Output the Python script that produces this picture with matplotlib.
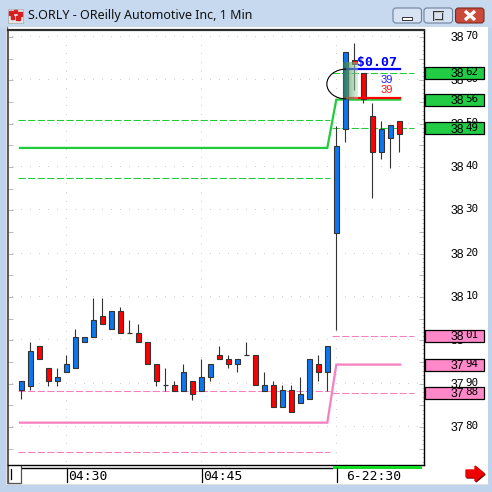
import numpy as np
import matplotlib
matplotlib.use("Agg")
import matplotlib.pyplot as plt
from matplotlib.patches import Rectangle, Arc, FancyBboxPatch, Polygon

# ---- one-minute OHLC bars -------------------------------------------------
opens = [3788.5, 3789.5, 3798.6, 3793.5, 3790.5, 3792.6, 3793.5, 3799.5, 3800.7, 3805.5,
         3802.5, 3806.7, 3801.6, 3801.6, 3799.5, 3794.5, 3789.6, 3789.6, 3788.4, 3790.5,
         3788.4, 3791.5, 3796.6, 3795.6, 3794.5, 3796.6, 3796.6, 3788.4, 3789.6, 3784.5,
         3788.5, 3785.5, 3786.4, 3794.5, 3792.6, 3824.7, 3848.7, 3864.7, 3861.6, 3851.8,
         3843.5, 3846.6, 3850.6]
highs = [3790.5, 3799.6, 3798.6, 3793.5, 3793.5, 3796.5, 3802.6, 3800.7, 3809.8, 3809.8,
         3806.7, 3807.7, 3804.6, 3803.7, 3799.5, 3794.5, 3793.6, 3790.6, 3794.6, 3790.5,
         3795.7, 3794.5, 3798.7, 3796.6, 3795.6, 3799.6, 3796.6, 3792.6, 3790.6, 3789.6,
         3789.6, 3791.5, 3795.6, 3796.6, 3798.7, 3849.5, 3866.5, 3868.5, 3861.6, 3854.7,
         3850.7, 3849.6, 3850.6]
lows = [3786.4, 3788.5, 3795.6, 3789.5, 3789.5, 3792.6, 3793.5, 3799.5, 3800.7, 3803.7,
        3802.5, 3801.6, 3801.6, 3799.5, 3794.5, 3789.5, 3788.4, 3788.4, 3788.4, 3786.3,
        3788.4, 3790.5, 3795.6, 3793.5, 3792.6, 3796.6, 3789.6, 3788.4, 3784.5, 3784.5,
        3783.5, 3785.5, 3786.4, 3790.5, 3788.4, 3802.4, 3845.7, 3857.8, 3854.8, 3832.8,
        3841.8, 3839.7, 3843.5]
closes = [3790.5, 3797.5, 3795.6, 3790.5, 3791.5, 3794.5, 3800.7, 3800.7, 3804.6, 3803.7,
          3806.7, 3801.6, 3801.6, 3799.5, 3794.5, 3790.5, 3789.6, 3788.4, 3792.6, 3787.5,
          3791.5, 3794.5, 3795.6, 3794.5, 3795.6, 3796.6, 3789.6, 3789.6, 3784.5, 3788.5,
          3783.5, 3787.5, 3795.6, 3792.6, 3798.7, 3844.8, 3866.5, 3863.7, 3855.7, 3843.5,
          3848.8, 3849.6, 3847.7]

# time axis labels (bar index -> text)
time_idx = [5, 20, 35]
time_labels = ["04:30", "04:45", "6-22:30"]

# price axis labels
price_ticks = [3780, 3790, 3800, 3810, 3820, 3830, 3840, 3850, 3860, 3870]

# level bands (upper, middle, lower) before and after the session break
green_pre = [3850.8, 3844.4, 3837.5]
green_post = [3861.8, 3855.55, 3848.9]
pink_pre = [3788.2, 3781.0, 3774.2]
pink_post = [3801.0, 3794.4, 3787.8]
break_idx = 35

# quote annotation
spread_text = "$0.07"
ask_price, bid_price = 3862.7, 3856.0
ask_size, bid_size = "39", "39"

# ---- figure ----------------------------------------------------------------
W = H = 492
fig = plt.figure(figsize=(4.92, 4.92), dpi=100)
fig.patch.set_facecolor("#bfd3ec")

bg = fig.add_axes([0, 0, 1, 1], zorder=0)
bg.set_xlim(0, W)
bg.set_ylim(H, 0)
bg.axis("off")

# window chrome
bg.add_patch(Rectangle((0, 0), W, 27, color="#c6d9ef", zorder=0))
bg.add_patch(Rectangle((6, 27), 482, 457, facecolor="white", edgecolor="none", zorder=1))
bg.plot([6.5, 6.5], [27, 484], color="#6a6a6a", lw=1.0, zorder=2)
bg.plot([6, 488], [483.5, 483.5], color="#e0e0e0", lw=0.8, zorder=2)

# title icon
bg.add_patch(Rectangle((8, 9), 15, 14, facecolor="#e6e6e6", edgecolor="#b0b0b0", lw=0.6, zorder=2))
for (ix, iy, iw, ih) in [(9, 11, 4, 4), (14, 10, 3, 3), (18, 12, 4, 4), (11, 16, 3, 3), (16, 16, 4, 4)]:
    bg.add_patch(Rectangle((ix, iy), iw, ih, color="#d42020", zorder=3))

bg.text(28, 15.5, "S.ORLY - OReilly Automotive Inc, 1 Min", fontsize=9,
        family="Noto Sans", color="#111111", va="center", ha="left", zorder=3)

# caption buttons
for x0, fc, ec in [(393, "#d7e3f2", "#6f819c"), (424, "#d7e3f2", "#6f819c"), (455.5, "#c9493b", "#7a2b22")]:
    bg.add_patch(FancyBboxPatch((x0, 8), 28.5, 15, boxstyle="round,pad=0,rounding_size=3",
                                facecolor=fc, edgecolor=ec, lw=0.8, zorder=3))
bg.add_patch(Rectangle((402, 16.5), 10, 3, facecolor="white", edgecolor="#333333", lw=0.7, zorder=4))
bg.add_patch(Rectangle((433.5, 11.5), 9, 8, facecolor="none", edgecolor="#333333", lw=1.4, zorder=4))
bg.add_patch(Rectangle((433.5, 11.5), 9, 8, facecolor="none", edgecolor="white", lw=0.5, zorder=4))
bg.plot([465, 475], [11, 20], color="white", lw=2.4, solid_capstyle="butt", zorder=4)
bg.plot([465, 475], [20, 11], color="white", lw=2.4, solid_capstyle="butt", zorder=4)

# scroll box at bottom left
bg.add_patch(Rectangle((8, 463.5), 13, 19.5, facecolor="white", edgecolor="#555555", lw=0.9, zorder=3))
bg.plot([11, 11], [469, 479], color="black", lw=0.9, zorder=4)

# red arrow at bottom right
bg.add_patch(Polygon([(467, 471), (476, 471), (476, 467), (485, 474.5), (476, 482), (476, 478), (467, 478)],
                     closed=True, color="#7a0000", zorder=3))
bg.add_patch(Polygon([(466, 470), (475, 470), (475, 466), (484, 473.5), (475, 481), (475, 477), (466, 477)],
                     closed=True, color="#ee0000", zorder=4))

# ---- price chart ------------------------------------------------------------
L, T, R, B = 8, 30, 424, 465
ax = fig.add_axes([L / W, 1 - B / H, (R - L) / W, (B - T) / H], zorder=2)
ax.set_facecolor("white")

px_per_bar = 9.0
x0_px = 21.3
xmin = (L - x0_px) / px_per_bar
xmax = (R - x0_px) / px_per_bar
px_per_unit = 4.3333
ymax = 3870 + (T - 37) / -px_per_unit
ymin = 3870 - (B - 37) / px_per_unit

n = len(opens)
idx = np.arange(n)

# dotted grid
grid_x = np.arange(-1, 45)
for lvl in price_ticks:
    ax.plot(grid_x, [lvl] * len(grid_x), ",", color="#cfcfcf", zorder=1)
vy = np.arange(3772, 3872, 2.0)
for ti in time_idx:
    ax.plot([ti] * len(vy), vy, ",", color="#cfcfcf", zorder=1)

dash = (0, (7, 2.2))


def band(vals_pre, vals_post, color):
    up0, mid0, lo0 = vals_pre
    up1, mid1, lo1 = vals_post
    ax.plot([-0.15, break_idx - 1, break_idx, 42.1], [mid0, mid0, mid1, mid1],
            color=color, lw=1.6, zorder=2, solid_joinstyle="miter")
    for v in (up0, lo0):
        ax.plot([-0.37, break_idx - 0.65], [v, v], color=color, lw=0.75, ls=dash, zorder=2)
    for v in (up1, lo1):
        ax.plot([break_idx - 0.45, 43.6], [v, v], color=color, lw=0.75, ls=dash, zorder=2)


band(green_pre, green_post, "#1fcc3a")
band(pink_pre, pink_post, "#f77fc0")

# candles
body_w = 0.5
edge = "#333333"
ax.vlines(idx, lows, highs, color=edge, lw=0.8, zorder=3)
for i in range(n):
    o, c = opens[i], closes[i]
    if abs(c - o) < 1e-9:
        ax.hlines(o, i - body_w / 2, i + body_w / 2, color=edge, lw=0.9, zorder=4)
        continue
    col = "#0a76f2" if c > o else "#ff0000"
    ax.add_patch(Rectangle((i - body_w / 2, min(o, c)), body_w, abs(c - o),
                           facecolor=col, edgecolor=edge, lw=0.8, zorder=4))

# quote annotation
ax.plot([35.95, 42.1], [ask_price, ask_price], color="#0000ff", lw=1.6, zorder=5)
ax.plot([35.95, 42.1], [bid_price, bid_price], color="#ff0000", lw=1.6, zorder=5)
ax.text(37.35, 3864.2, spread_text, color="#0000ff", fontsize=9.5, fontweight="bold",
        family="DejaVu Sans Mono", ha="left", va="center", zorder=7)
ax.text(40.6, ask_price - 2.65, ask_size, color="#1a1aff", fontsize=8, family="Liberation Sans",
        ha="center", va="center", zorder=7)
ax.text(40.6, bid_price + 1.75, bid_size, color="#ff1010", fontsize=8, family="Liberation Sans",
        ha="center", va="center", zorder=7)

# highlight over the breakout bar
grad = np.zeros((1, 60, 4))
t = np.linspace(0, 1, 60)
grad[0, :, 0] = 0.15 + 0.55 * t
grad[0, :, 1] = 0.45 + 0.43 * t
grad[0, :, 2] = 0.25 + 0.45 * t
grad[0, :, 3] = 0.80 - 0.35 * t
ax.imshow(grad, extent=[35.74, 37.4, 3855.7, 3864.1], aspect="auto",
          interpolation="bilinear", zorder=6)
ax.add_patch(Arc((36.1, 3859.15), 4.3, 6.9, theta1=90, theta2=270, color="black", lw=0.8, zorder=6))

ax.set_xlim(xmin, xmax)
ax.set_ylim(ymin, ymax)

# axes frame and ticks
for side, col, lw in [("top", "#2e2e2e", 1.6), ("left", "#5a5a5a", 1.4), ("right", "black", 1.0), ("bottom", "black", 1.0)]:
    ax.spines[side].set_color(col)
    ax.spines[side].set_linewidth(lw)
ax.set_xticks([])
ax.set_yticks(np.arange(3775, 3871, 5))
ax.set_yticks(np.arange(3772, 3872, 1), minor=True)
ax.tick_params(axis="y", which="major", direction="in", left=True, right=True, length=3.5,
               color="#b8b8b8", width=0.7, labelleft=False, labelright=False)
ax.tick_params(axis="y", which="minor", direction="in", left=False, right=True, length=1.8,
               color="#c4c4c4", width=0.7)


def fx(px):
    return (px - L) / (R - L)


ytr = ax.get_yaxis_transform()


def price_label(v, text, z):
    head, tail = text[:2], text[2:]
    ax.annotate(head, xy=(fx(464.5), v), xycoords=ytr, xytext=(0, -0.8), textcoords="offset points",
                ha="right", va="center", fontsize=8.8, family="Liberation Sans",
                color="black", annotation_clip=False, zorder=z)
    ax.annotate(tail, xy=(fx(465.5), v), xycoords=ytr, xytext=(0, 0.6), textcoords="offset points",
                ha="left", va="center", fontsize=7.8, family="DejaVu Sans Mono",
                color="black", annotation_clip=False, zorder=z)


for p in price_ticks:
    price_label(p, str(p), 9)

box_h = 12 / px_per_unit
for vals, fc in [(green_post, "#22cc44"), (pink_post, "#ff88c8")]:
    for v in vals:
        ax.add_patch(Rectangle((fx(425), v - box_h / 2), (483.5 - 425) / (R - L), box_h,
                               transform=ytr, facecolor=fc, edgecolor="black", lw=0.9,
                               clip_on=False, zorder=10))
        price_label(v, f"{v:.0f}", 11)

# time axis
xtr = ax.get_xaxis_transform()


def fy(py):
    return (B - py) / (B - T)


ax.plot([(21.7 - x0_px) / px_per_bar, (332 - x0_px) / px_per_bar], [fy(468), fy(468)],
        transform=xtr, color="black", lw=1.0, clip_on=False, zorder=9)
ax.add_patch(Rectangle(((332.7 - x0_px) / px_per_bar, fy(469.3)), (421.7 - 332.7) / px_per_bar,
                       fy(465.6) - fy(469.3), transform=xtr, facecolor="#11dd22",
                       edgecolor="none", clip_on=False, zorder=9))
for ti, lab in zip(time_idx, time_labels):
    ax.plot([ti + 0.04, ti + 0.04], [fy(468), fy(481.5)], transform=xtr, color="black", lw=0.9,
            clip_on=False, zorder=9)
    off = 1.0 if lab[0] == "0" else 7.3
    ax.annotate(lab, xy=(ti, fy(477)), xycoords=xtr, xytext=(off, 0), textcoords="offset points",
                ha="left", va="center", fontsize=9.4, family="DejaVu Sans Mono", color="black",
                annotation_clip=False, zorder=9)

fig.savefig("out.png", dpi=100, facecolor=fig.get_facecolor())
